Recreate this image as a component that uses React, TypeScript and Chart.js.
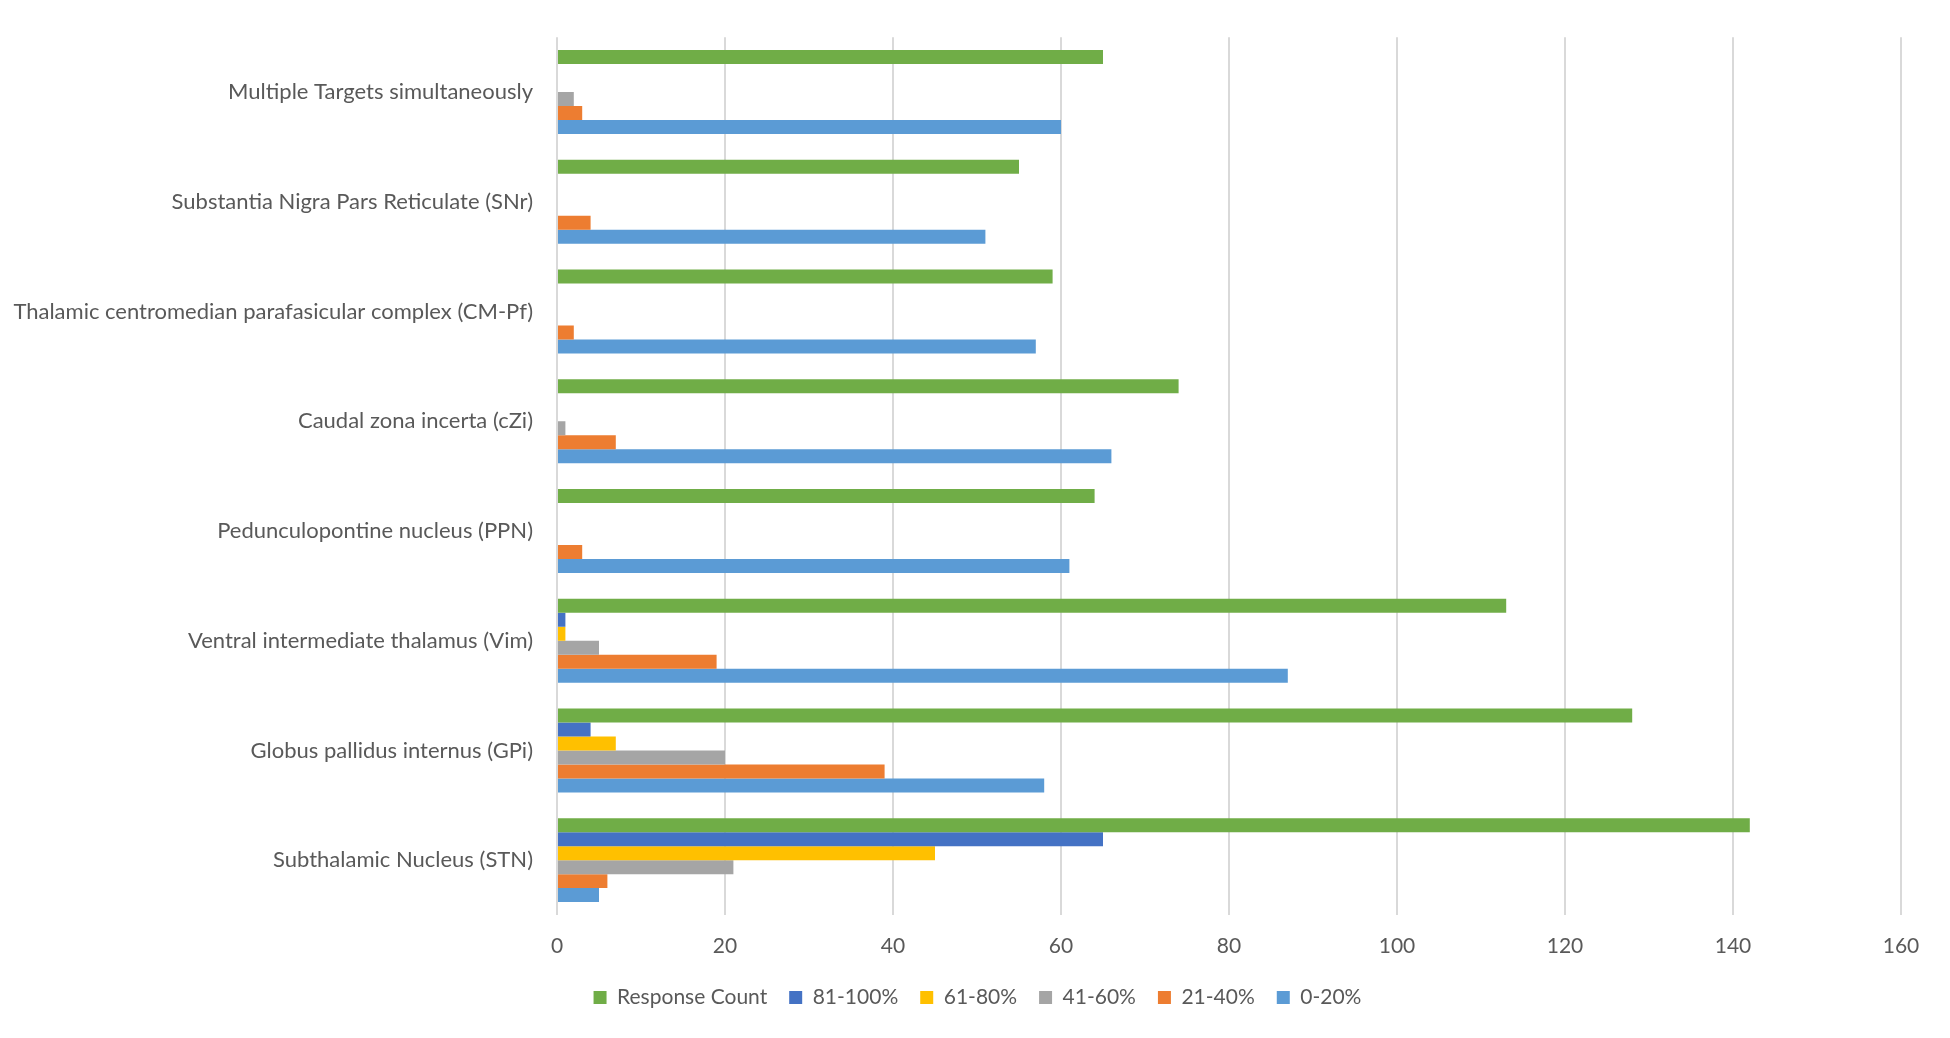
import React, { useEffect, useRef } from "react";
import { Chart, registerables } from "chart.js";

Chart.register(...registerables);

const categories = [
  "Multiple Targets simultaneously",
  "Substantia Nigra Pars Reticulate (SNr)",
  "Thalamic centromedian parafasicular complex (CM-Pf)",
  "Caudal zona incerta (cZi)",
  "Pedunculopontine nucleus (PPN)",
  "Ventral intermediate thalamus (Vim)",
  "Globus pallidus internus (GPi)",
  "Subthalamic Nucleus (STN)",
];

const responseCount = [65, 55, 59, 74, 64, 113, 128, 142];
const pct81to100 = [0, 0, 0, 0, 0, 1, 4, 65];
const pct61to80 = [0, 0, 0, 0, 0, 1, 7, 45];
const pct41to60 = [2, 0, 0, 1, 0, 5, 20, 21];
const pct21to40 = [3, 4, 2, 7, 3, 19, 39, 6];
const pct0to20 = [60, 51, 57, 66, 61, 87, 58, 5];

const seriesNames = ["Response Count", "81-100%", "61-80%", "41-60%", "21-40%", "0-20%"];
const seriesColors = ["#70AD47", "#4472C4", "#FFC000", "#A5A5A5", "#ED7D31", "#5B9BD5"];
const xTicks = [0, 20, 40, 60, 80, 100, 120, 140, 160];

const FONT = "Lato, 'Open Sans', sans-serif";

const legendShift = {
  id: "legendShift",
  afterLayout(chart: any) {
    const lg = chart.legend;
    if (lg) {
      lg.left += 27;
      lg.right += 27;
    }
  },
};

export default function App() {
  const ref = useRef<HTMLCanvasElement | null>(null);

  useEffect(() => {
    document.body.style.margin = "0";
    const canvas = ref.current;
    if (!canvas) return;
    const seriesValues = [responseCount, pct81to100, pct61to80, pct41to60, pct21to40, pct0to20];
    const chart = new Chart(canvas, {
      type: "bar",
      data: {
        labels: categories,
        datasets: seriesNames.map((name, i) => ({
          label: name,
          data: seriesValues[i],
          backgroundColor: seriesColors[i],
          borderWidth: 0,
          categoryPercentage: 0.765,
          barPercentage: 1.0,
        })),
      },
      options: {
        indexAxis: "y",
        animation: false,
        responsive: false,
        maintainAspectRatio: false,
        layout: { padding: { top: 30, right: 49, bottom: 20, left: 0 } },
        scales: {
          x: {
            type: "linear",
            min: 0,
            max: 160,
            afterBuildTicks: (scale: any) => {
              scale.ticks = xTicks.map((v) => ({ value: v }));
            },
            afterFit: (scale: any) => {
              scale.height = 50;
            },
            grid: { color: "#D9D9D9", lineWidth: 2, drawTicks: false },
            border: { display: false },
            ticks: {
              padding: 19,
              color: "#595959",
              font: { family: FONT, size: 21 },
            },
          },
          y: {
            afterFit: (scale: any) => {
              scale.width = 557;
            },
            grid: { display: false, drawTicks: false },
            border: { display: false },
            ticks: {
              padding: 24,
              color: "#595959",
              font: { family: FONT, size: 22 },
            },
          },
        },
        plugins: {
          legend: {
            position: "bottom",
            labels: {
              boxWidth: 13,
              boxHeight: 13,
              padding: 22,
              color: "#595959",
              font: { family: FONT, size: 21 },
            },
          },
          tooltip: { enabled: false },
        },
      },
      plugins: [legendShift],
    });
    return () => chart.destroy();
  }, []);

  return (
    <div style={{ width: 1950, height: 1038, background: "#fff" }}>
      <canvas ref={ref} width={1950} height={1038} style={{ width: 1950, height: 1038, display: "block" }} />
    </div>
  );
}
